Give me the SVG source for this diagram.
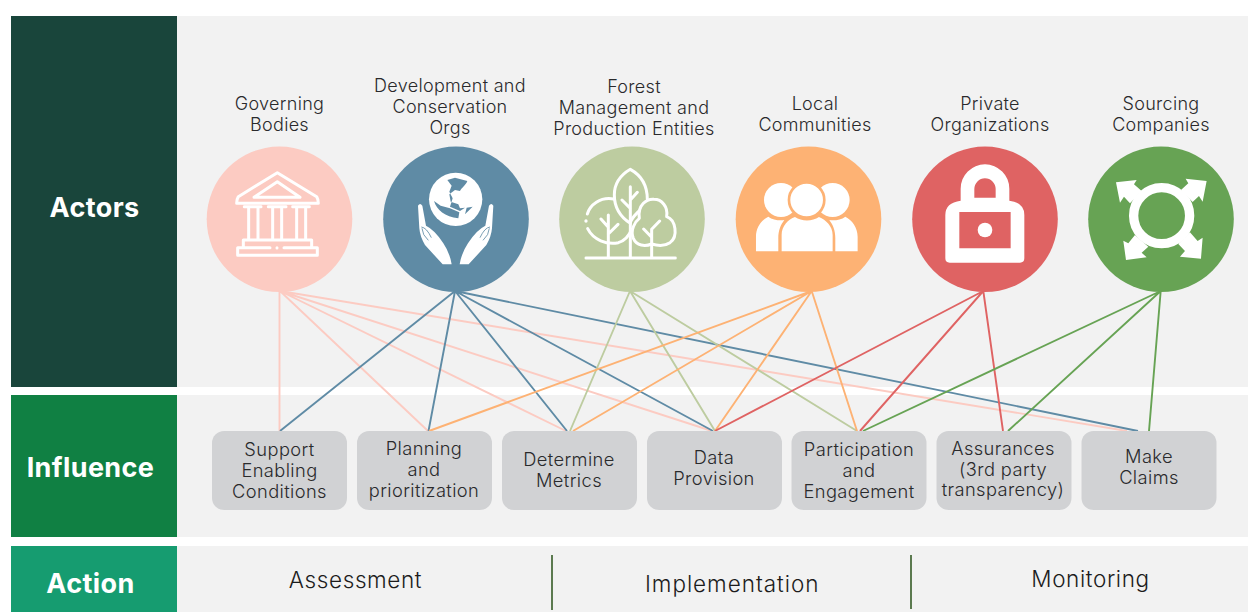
<svg xmlns="http://www.w3.org/2000/svg" width="1248" height="612" viewBox="0 0 1248 612">
<style>
text{font-family:"Inter","Liberation Sans",sans-serif;text-anchor:middle;fill:#2a2a2c}
.a{font-size:18px;font-weight:300;letter-spacing:.3px}
.n{font-size:18.3px;font-weight:300;letter-spacing:.4px}
.b{font-size:22.5px;font-weight:300;letter-spacing:.6px;fill:#1c1c1c}
.t{font-size:27px;font-weight:700;letter-spacing:.4px;fill:#fff}
.box{fill:#d1d2d4}
.panel{fill:#f2f2f2}
.l{fill:none;stroke-width:1.9}
.w{fill:#fff}
.s{fill:none;stroke:#fff;stroke-width:9;stroke-linecap:round;stroke-linejoin:round}
</style>
<rect width="1248" height="612" fill="#fff"/>
<g id="bands">
<rect class="panel" x="177" y="16" width="1071" height="371"/>
<rect class="panel" x="177" y="395" width="1071" height="142"/>
<rect class="panel" x="177" y="546" width="1071" height="66"/>
<rect x="11" y="16" width="166" height="371" fill="#19453b"/>
<rect x="11" y="395" width="166" height="142" fill="#108043"/>
<rect x="11" y="546" width="166" height="66" fill="#169c70"/>
<text class="t" x="94.5" y="217">Actors</text>
<text class="t" x="90.5" y="477">Influence</text>
<text class="t" x="90.5" y="593">Action</text>
</g>
<g id="connectors" class="l">
<g stroke="#fccbc2">
<path d="M279.5 291V431M280 291L428 431M280 291L566 431M280 291L712 431M280 291L1127 431"/>
</g>
<g stroke="#5f8ba5">
<path d="M455 291L280 431M455 291L428.5 431M455 291L567 431M455 291L713 431M455 291L1138 431"/>
</g>
<g stroke="#bdcca0">
<path d="M630 291L570 431M630 291L715 431M630 291L857 431"/>
</g>
<g stroke="#fdb274">
<path d="M811.7 291L429 431M811.7 291L573 431M811.7 291L715 431M811.7 291L857 431"/>
</g>
<g stroke="#df6363">
<path d="M983.3 291L715 431M983.3 291L860 431M983.3 291L1003 431"/>
</g>
<g stroke="#67a354">
<path d="M1160.7 291L863 431M1160.7 291L1008 431M1160.7 291L1149 431"/>
</g>
</g>
<g id="actor-governing">
<text class="a" x="279.5" y="109.500">Governing</text><text class="a" x="279.5" y="130.500">Bodies</text>
<circle cx="279.5" cy="219.3" r="72.8" fill="#fccbc2"/>
<g transform="translate(190 140) scale(.3333)">
<path class="s" d="M262 98L380 170Q385 178 385 190H140Q140 178 145 170Z"/>
<path class="s" d="M262 125L330 172H192Z"/>
<path class="s" d="M163 200H213M176 200V298M204 200V298M235 200H288M248 200V298M275 200V298M308 200H358M320 200V298M347 200V298"/>
<path class="s" d="M160 320V300H365V320"/>
<path class="s" d="M240 323H143V346H382V323H282M261 323V324"/>
</g>
</g>
<g id="actor-development">
<text class="a" x="450" y="91.5">Development and</text><text class="a" x="450" y="112.5">Conservation</text><text class="a" x="450" y="133.5">Orgs</text>
<circle cx="456" cy="219.3" r="72.8" fill="#5f8ba5"/>
<g transform="translate(410 165) scale(.3333)">
<circle class="w" cx="137" cy="103" r="80"/>
<path fill="#5f8ba5" d="M112 45L135 38L172 48C168 60 155 68 150 78L135 75L118 88L122 110L145 118L150 130L165 128L150 138L120 125L128 100L118 80L125 62ZM72 108C80 135 105 155 145 160L148 142L120 130L92 122ZM165 148L188 125L170 128Z"/>
<path class="w" d="M24 122Q30 112 37 122L48 182Q75 195 100 235Q120 265 125 298H98L45 240Q30 215 28 190Z"/>
<path class="w" d="M250 122Q244 112 237 122L226 182Q199 195 174 235Q154 265 149 298H176L229 240Q244 215 246 190Z"/>
<path fill="none" stroke="#5f8ba5" stroke-width="2.500" d="M34 186Q50 188 64 218M36 190Q37 210 55 226M240 186Q224 188 210 218M238 190Q237 210 219 226"/>
</g>
</g>
<g id="actor-forest">
<text class="a" x="634" y="92.5">Forest</text><text class="a" x="634" y="113.5">Management and</text><text class="a" x="634" y="134.5">Production Entities</text>
<circle cx="632" cy="219.3" r="72.8" fill="#bdcca0"/>
<g transform="translate(550 140) scale(.3333)">
<path class="s" d="M108 354H376M241 140V350M216 180L241 205M241 180L262 157M175 225V350M153 237L175 262M175 282L204 253M305 270V350M281 267L305 292M305 268L329 243"/>
<path class="s" d="M265 215C240 240 241 250 241 250C210 230 193 200 193 165C193 130 212 105 241 88C272 105 292 135 292 178"/>
<path class="s" d="M191 177C150 170 120 195 112 222M113 266C130 300 170 315 205 308C225 302 238 285 245 268"/>
<circle class="w" cx="108" cy="243" r="5"/>
<path class="s" d="M268 235C262 195 290 176 312 178C335 178 355 200 350 230C378 240 385 290 360 308C345 318 325 318 305 312C285 320 260 318 250 295C240 270 255 245 268 235Z"/>
</g>
</g>
<g id="actor-local">
<text class="a" x="815" y="109.500">Local</text><text class="a" x="815" y="130.500">Communities</text>
<circle cx="808.5" cy="219.3" r="72.8" fill="#fdb274"/>
<g transform="translate(550 140) scale(.3333)">
<circle class="w" cx="693" cy="180" r="51"/><circle class="w" cx="848" cy="180" r="51"/>
<path class="w" d="M618 334V290C618 262 635 240 655 230C668 240 690 243 703 240C692 255 685 270 685 295V334Z"/>
<path class="w" d="M923 334V290C923 262 906 240 886 230C873 240 851 243 838 240C849 255 856 270 856 295V334Z"/>
<circle class="w" cx="770" cy="180" r="53" stroke="#fdb274" stroke-width="8"/>
<path class="w" d="M695 334V285C695 258 715 238 735 231C755 245 787 245 807 231C828 240 848 258 848 285V334Z"/>
</g>
</g>
<g id="actor-private">
<text class="a" x="990" y="109.500">Private</text><text class="a" x="990" y="130.500">Organizations</text>
<circle cx="985" cy="219.3" r="72.8" fill="#df6363"/>
<g transform="translate(900 140) scale(.3333)">
<path class="w" fill-rule="evenodd" d="M182 182V146A73 73 0 0 1 328 146V182Q373 188 373 225V355Q373 368 360 368H149Q136 368 136 355V225Q136 188 182 182ZM223 173H287V147A32 32 0 0 0 223 147ZM178 216V325H332V216Z"/>
<circle class="w" cx="255" cy="270" r="22"/>
</g>
</g>
<g id="actor-sourcing">
<text class="a" x="1161" y="109.500">Sourcing</text><text class="a" x="1161" y="130.500">Companies</text>
<circle cx="1161" cy="219.3" r="72.8" fill="#67a354"/>
<g transform="translate(900 140) scale(.3333)">
<path class="w" d="M648 127L710 120L702 133L725 153L690 190L672 170L660 188Z"/>
<path class="w" d="M920 123L857 116L865 130L843 150L878 186L897 168L908 185Z"/>
<path class="w" d="M678 360L670 302L685 310L705 285L745 320L725 338L740 352Z"/>
<path class="w" d="M903 356L908 293L893 303L870 277L835 312L855 333L840 350Z"/>
<circle cx="785" cy="227" r="84" fill="none" stroke="#fff" stroke-width="28"/>
</g>
</g>
<g id="node-support"><rect class="box" x="212" y="431" width="135" height="79" rx="12"/><text class="n" x="279.5" y="455.5">Support</text><text class="n" x="279.5" y="476.5">Enabling</text><text class="n" x="279.5" y="497.5">Conditions</text></g>
<g id="node-planning"><rect class="box" x="357" y="431" width="135" height="79" rx="12"/><text class="n" x="424" y="454.5">Planning</text><text class="n" x="424" y="476">and</text><text class="n" x="424" y="497">prioritization</text></g>
<g id="node-determine"><rect class="box" x="502" y="431" width="135" height="79" rx="12"/><text class="n" x="569" y="466">Determine</text><text class="n" x="569" y="487">Metrics</text></g>
<g id="node-data"><rect class="box" x="647" y="431" width="135" height="79" rx="12"/><text class="n" x="714" y="463.5">Data</text><text class="n" x="714" y="484.5">Provision</text></g>
<g id="node-participation"><rect class="box" x="791.500" y="431" width="135" height="79" rx="12"/><text class="n" x="859" y="455.500">Participation</text><text class="n" x="859" y="477">and</text><text class="n" x="859" y="497.500">Engagement</text></g>
<g id="node-assurances"><rect class="box" x="936.500" y="431" width="135" height="79" rx="12"/><text class="n" x="1003" y="454.500">Assurances</text><text class="n" x="1003" y="475.500">(3rd party</text><text class="n" x="1003" y="496">transparency)</text></g>
<g id="node-claims"><rect class="box" x="1081.500" y="431" width="135" height="79" rx="12"/><text class="n" x="1149" y="463">Make</text><text class="n" x="1149" y="484">Claims</text></g>
<g id="phases">
<text class="b" x="355.500" y="588">Assessment</text>
<text class="b" x="732" y="592" textLength="174">Implementation</text>
<text class="b" x="1090.500" y="587">Monitoring</text>
<path d="M552 555V610M911 555V609" stroke="#5b7a4f" stroke-width="2" fill="none"/>
</g>
</svg>
